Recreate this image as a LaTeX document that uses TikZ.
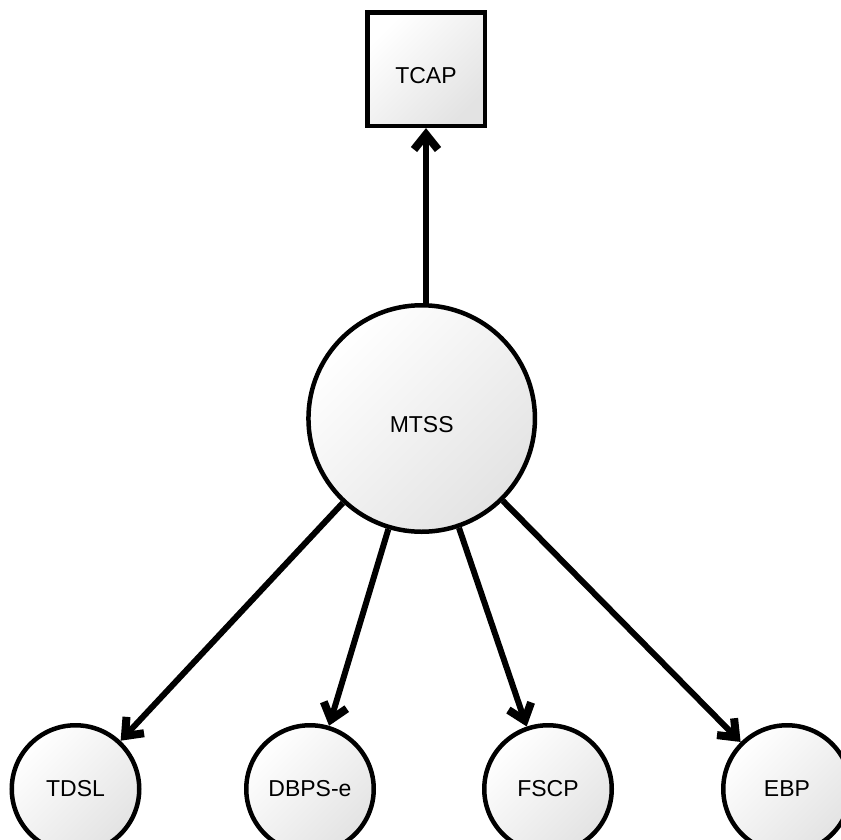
\documentclass[tikz,border=0pt]{standalone}
\usepackage{fontspec}
\setmainfont{Liberation Sans}
\usetikzlibrary{decorations.markings}
\begin{document}
\begin{tikzpicture}[x=1pt,y=-1pt,
  base/.style={draw=black,line width=4.5pt,top color=white,bottom color=black!11,shading angle=45,
    font=\fontsize{23}{26}\selectfont,inner sep=0pt},
  boxnode/.style={base,rectangle,minimum width=117.5pt,minimum height=113.5pt,text height=30pt,text depth=1.5pt},
  bignode/.style={base,circle,minimum size=226.5pt,text height=30pt,text depth=1.5pt},
  smallnode/.style={base,circle,minimum size=127.5pt},
  conn/.style={line width=6pt,shorten >=4pt,postaction={decorate},
    decoration={markings,mark=at position 1 with {
      \draw[line width=8pt,line cap=butt,line join=miter,shorten >=0pt]
        (-21.5pt,12pt) -- (-6.5pt,0pt) -- (-21.5pt,-12pt);}}}]
\useasboundingbox (0,0) rectangle (841,839);
\node[boxnode] (tcap) at (426,69) {TCAP};
\node[bignode] (mtss) at (421.7,418.5) {MTSS};
\node[smallnode] (tdsl) at (75.5,789) {TDSL};
\node[smallnode] (dbps) at (310,789) {DBPS-e};
\node[smallnode] (fscp) at (548,789) {FSCP};
\node[smallnode] (ebp) at (787,789) {EBP};
\draw[conn] (tcap.south |- mtss.north) -- (tcap.south);
\draw[conn] (mtss) -- (tdsl);
\draw[conn] (mtss) -- (dbps);
\draw[conn] (mtss) -- (fscp);
\draw[conn] (mtss) -- (ebp);
\end{tikzpicture}
\end{document}
